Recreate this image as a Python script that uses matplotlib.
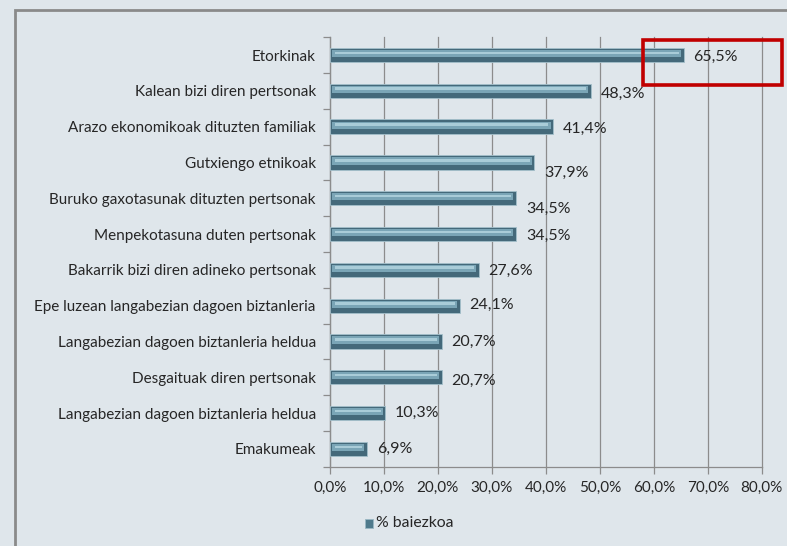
import matplotlib
matplotlib.use("Agg")
import matplotlib.pyplot as plt
from matplotlib.patches import Rectangle
from matplotlib.ticker import FuncFormatter, FixedLocator

categories = [
    "Etorkinak",
    "Kalean bizi diren pertsonak",
    "Arazo ekonomikoak dituzten familiak",
    "Gutxiengo etnikoak",
    "Buruko gaxotasunak dituzten pertsonak",
    "Menpekotasuna duten pertsonak",
    "Bakarrik bizi diren adineko pertsonak",
    "Epe luzean langabezian dagoen biztanleria",
    "Langabezian dagoen biztanleria heldua",
    "Desgaituak diren pertsonak",
    "Langabezian dagoen biztanleria heldua",
    "Emakumeak",
]
values = [65.5, 48.3, 41.4, 37.9, 34.5, 34.5, 27.6, 24.1, 20.7, 20.7, 10.3, 6.9]
xticks = [0, 10, 20, 30, 40, 50, 60, 70, 80]
series_name = "% baiezkoa"

FONT = "Lato"
BG = "#dfe6eb"
TXT = "#262626"
plt.rcParams["font.family"] = [FONT, "DejaVu Sans"]

fig = plt.figure(figsize=(7.87, 5.46), dpi=100, facecolor=BG)
ax = fig.add_axes([0.419, 0.145, 0.549, 0.787])
ax.set_facecolor(BG)

n = len(categories)
ypos = list(range(n))
# bar with bevel effect
ax.barh(ypos, values, height=0.40, color="#44697a", edgecolor="#a4c0cb", linewidth=0.6, zorder=3)
ax.barh([y - 0.04 for y in ypos], [v - 1.0 for v in values], height=0.20, left=0.5,
        color="#7aa5b6", linewidth=0, zorder=4)
ax.barh([y - 0.06 for y in ypos], [v - 1.8 for v in values], height=0.07, left=0.9,
        color="#a9ccd8", linewidth=0, zorder=5)

label_dy = [0.05, 0.08, 0.05, 0.3, 0.3, 0.05, 0.03, -0.03, 0.0, 0.1, 0.0, 0.0]
for y, v, dy in zip(ypos, values, label_dy):
    ax.text(v + 1.8, y + dy, f"{v:.1f}%".replace(".", ","), va="center", ha="left",
            fontsize=11.5, color=TXT, zorder=6)

ax.set_xlim(0, 80)
ax.set_ylim(n - 0.5, -0.5)
ax.xaxis.set_major_locator(FixedLocator(xticks))
ax.xaxis.set_major_formatter(FuncFormatter(lambda x, p: f"{x:.1f}%".replace(".", ",")))
ax.grid(axis="x", color="#8c8c8c", linewidth=0.9, zorder=0)
for gl in ax.get_xgridlines():
    gl.set_clip_on(False)
ax.set_yticks(ypos)
ax.set_yticklabels(categories)
ax.set_yticks([y + 0.5 for y in range(-1, n)], minor=True)
ax.tick_params(axis="y", which="major", length=0, pad=10, labelsize=11, labelcolor=TXT)
ax.tick_params(axis="y", which="minor", length=5, color="#8c8c8c", width=0.9)
ax.tick_params(axis="x", length=5, color="#8c8c8c", width=0.9, labelsize=11, labelcolor=TXT, pad=5)
for s in ["top", "right"]:
    ax.spines[s].set_visible(False)
for s in ["left", "bottom"]:
    ax.spines[s].set_color("#8c8c8c")
    ax.spines[s].set_linewidth(0.9)

# outer frame
fig.patches.append(Rectangle((15 / 787, -0.05), 1.2, (546 - 10) / 546 + 0.05, transform=fig.transFigure,
                             fill=False, edgecolor="#8a8a8a", linewidth=2.0))
# red highlight box
fig.patches.append(Rectangle((643 / 787, 1 - 85 / 546), (782 - 643) / 787, (85 - 40) / 546,
                             transform=fig.transFigure, fill=False, edgecolor="#c00000", linewidth=2.6, zorder=10))

# legend
fig.patches.append(Rectangle((365 / 787, 1 - 528 / 546), 8 / 787, 9 / 546, transform=fig.transFigure,
                             facecolor="#4f7a8c", edgecolor="#9ab8c4", linewidth=0.6))
fig.text(376 / 787, 1 - 523 / 546, series_name, va="center", ha="left", fontsize=11.3, color=TXT)

fig.savefig("out.png", dpi=100, facecolor=BG)
